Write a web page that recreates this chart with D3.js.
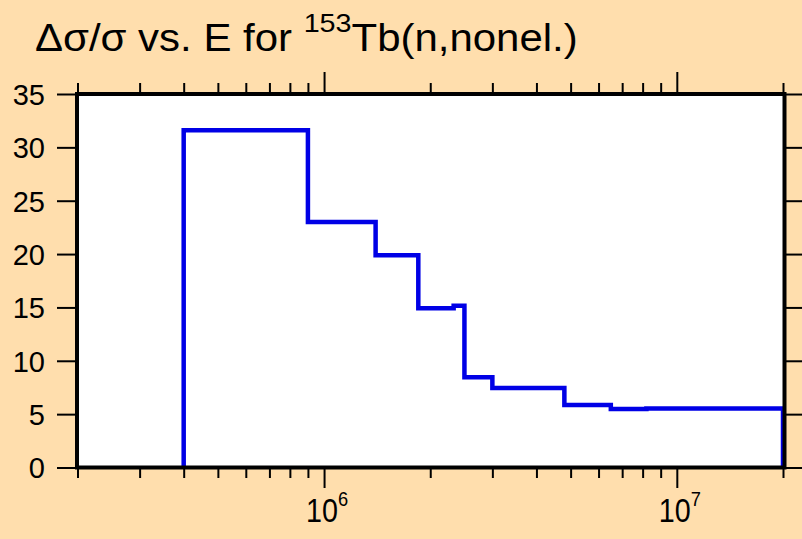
<!DOCTYPE html>
<html>
<head>
<meta charset="utf-8">
<script src="https://cdn.jsdelivr.net/npm/d3@7"></script>
<style>
  html, body { margin: 0; padding: 0; background: #FFDEAD; }
  svg { display: block; }
  text { font-family: "Liberation Sans", Arial, sans-serif; fill: #000; }
</style>
</head>
<body>
<div id="chart"></div>
<script>
// group boundaries (eV) and relative uncertainty (%) of each group
var energyEdges = [4e5, 9e5, 1.4e6, 1.85e6, 2.33e6, 2.5e6, 3e6, 4.8e6, 6.5e6, 8.2e6, 2e7];
var relUncert = [31.6, 23.0, 19.9, 14.92, 15.15, 8.45, 7.45, 5.85, 5.48, 5.53];
var yTicks = [0, 5, 10, 15, 20, 25, 30, 35];
var xMajorTicks = [1e6, 1e7];
var xMinorTicks = [2e5, 3e5, 4e5, 5e5, 6e5, 7e5, 8e5, 9e5,
                   2e6, 3e6, 4e6, 5e6, 6e6, 7e6, 8e6, 9e6, 2e7];

var chart = {
    width: 802,
    height: 539,
    box: { left: 77, right: 784.5, top: 94, bottom: 467.5 },

    draw: function() {
        var self = this;
        var svg = d3.select("#chart").append("svg")
            .attr("width", self.width)
            .attr("height", self.height);

        svg.append("rect")
            .attr("width", self.width)
            .attr("height", self.height)
            .attr("fill", "#FFDEAD");

        var x = d3.scaleLog().domain([2e5, 2e7]).range([77.5, 783]);
        var y = d3.scaleLinear().domain([0, 35]).range([self.box.bottom, self.box.top]);

        // plot area
        svg.append("rect")
            .attr("x", self.box.left)
            .attr("y", self.box.top)
            .attr("width", self.box.right - self.box.left)
            .attr("height", self.box.bottom - self.box.top)
            .attr("fill", "#fff");

        // step line
        var pts = [[energyEdges[0], 0]];
        for (var i = 0; i < relUncert.length; i++) {
            pts.push([energyEdges[i], relUncert[i]]);
        }
        pts.push([energyEdges[energyEdges.length - 1], relUncert[relUncert.length - 1]]);
        pts.push([energyEdges[energyEdges.length - 1], 0]);

        var line = d3.line()
            .x(function(d) { return x(d[0]); })
            .y(function(d) { return y(d[1]); })
            .curve(d3.curveStepAfter);

        svg.append("path")
            .datum(pts)
            .attr("d", line)
            .attr("fill", "none")
            .attr("stroke", "#0000E6")
            .attr("stroke-width", 4.5)
            .attr("stroke-linejoin", "miter");

        // frame
        svg.append("rect")
            .attr("x", self.box.left)
            .attr("y", self.box.top)
            .attr("width", self.box.right - self.box.left)
            .attr("height", self.box.bottom - self.box.top)
            .attr("fill", "none")
            .attr("stroke", "#000")
            .attr("stroke-width", 4);

        function styleTicks(g) {
            g.select(".domain").remove();
            g.selectAll(".tick line").attr("stroke", "#000").attr("stroke-width", 2);
        }

        // x axes, bottom and top
        var xMinorB = d3.axisBottom(x).tickValues(xMinorTicks).tickSize(10.5).tickFormat("");
        var xMajorB = d3.axisBottom(x).tickValues(xMajorTicks).tickSize(20.5).tickFormat("");
        var xMinorT = d3.axisTop(x).tickValues(xMinorTicks).tickSize(11).tickFormat("");
        var xMajorT = d3.axisTop(x).tickValues(xMajorTicks).tickSize(22).tickFormat("");

        svg.append("g").attr("transform", "translate(0," + self.box.bottom + ")").call(xMinorB).call(styleTicks);
        svg.append("g").attr("transform", "translate(0," + self.box.bottom + ")").call(xMajorB).call(styleTicks);
        svg.append("g").attr("transform", "translate(0," + self.box.top + ")").call(xMinorT).call(styleTicks);
        svg.append("g").attr("transform", "translate(0," + self.box.top + ")").call(xMajorT).call(styleTicks);

        // x labels 10^n
        var xl = svg.append("g");
        xMajorTicks.forEach(function(v) {
            var t = xl.append("text")
                .attr("transform", "translate(" + (x(v) + 3) + ",522) scale(0.87,1)")
                .attr("text-anchor", "middle")
                .style("font-size", "33px");
            t.append("tspan").text("10");
            t.append("tspan")
                .attr("dy", -16)
                .style("font-size", "21px")
                .text(Math.round(Math.log10(v)));
        });

        // y axes
        var yLeft = d3.axisLeft(y).tickValues(yTicks).tickSize(20).tickPadding(12)
            .tickFormat(d3.format("d"));
        var yRight = d3.axisRight(y).tickValues(yTicks).tickSize(20).tickFormat("");

        svg.append("g").attr("transform", "translate(" + self.box.left + ",0)").call(yLeft).call(styleTicks)
            .selectAll(".tick text")
            .attr("dx", "0")
            .style("font-size", "29px")
            .style("font-family", "'Liberation Sans', Arial, sans-serif")
            .attr("fill", "#000")
            .attr("x", -(77 - 45))
            .attr("dy", "0.36em");
        svg.append("g").attr("transform", "translate(" + self.box.right + ",0)").call(yRight).call(styleTicks);

        // title
        var title = svg.append("text")
            .attr("x", 0)
            .attr("y", 0)
            .style("font-size", "38px");
        title.append("tspan").text("\u0394\u03c3/\u03c3 vs. E for ");
        title.append("tspan").attr("dy", -19).style("font-size", "26px").text("153");
        title.append("tspan").attr("dy", 19).text("Tb(n,nonel.)");
        var w = title.node().getComputedTextLength();
        var sx = (578 - 35) / w;
        title.attr("transform", "translate(35,51) scale(" + sx + ",1)");
    }
};

chart.draw();
</script>
</body>
</html>
